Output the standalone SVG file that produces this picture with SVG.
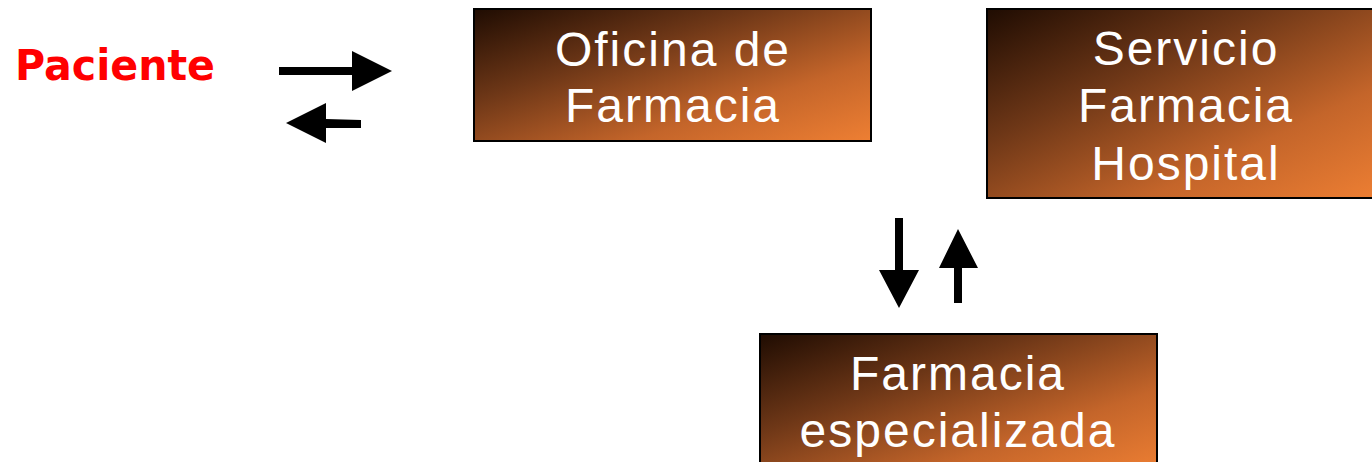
<svg xmlns="http://www.w3.org/2000/svg" width="1372" height="462" viewBox="0 0 1372 462">
<defs>
<linearGradient id="g" x1="0" y1="0" x2="1" y2="1">
<stop offset="0" stop-color="#1f0c02"/>
<stop offset="0.35" stop-color="#6e3717"/>
<stop offset="0.7" stop-color="#c4652a"/>
<stop offset="1" stop-color="#ee7f33"/>
</linearGradient>
</defs>
<style>
.box{fill:url(#g);stroke:#000;stroke-width:2}
.t{font-family:"Liberation Sans",Arial,sans-serif;font-size:48px;fill:#fff;text-anchor:middle;font-weight:400;letter-spacing:2px}
.p{font-family:"DejaVu Sans","Liberation Sans",sans-serif;font-size:42px;font-weight:bold;fill:#ff0000}
.a{fill:#000}
</style>
<rect width="1372" height="462" fill="#fff"/>
<g id="paciente"><text class="p" x="15" y="80" textLength="200" lengthAdjust="spacingAndGlyphs">Paciente</text></g>
<g id="oficina">
<rect class="box" x="474" y="9" width="397" height="132"/>
<text class="t" x="673" y="66">Oficina de</text>
<text class="t" x="673" y="122">Farmacia</text>
</g>
<g id="servicio">
<rect class="box" x="987" y="9" width="397" height="189"/>
<text class="t" x="1186" y="65">Servicio</text>
<text class="t" x="1186" y="122">Farmacia</text>
<text class="t" x="1186" y="180">Hospital</text>
</g>
<g id="especializada">
<rect class="box" x="760" y="334" width="397" height="140"/>
<text class="t" x="958" y="390">Farmacia</text>
<text class="t" x="958" y="447">especializada</text>
</g>
<g id="connectors">
<polygon class="a" points="279,67 352,67 352,51 392,71 352,91 352,75 279,75"/>
<polygon class="a" points="286,123 326,103 326,119 361,120 361,128 326,128 326,143"/>
<polygon class="a" points="895,218 903,218 903,270 919,270 899,308 879,270 895,270"/>
<polygon class="a" points="958,229 978,268 962,268 962,303 954,303 954,268 939,268"/>
</g>
</svg>
